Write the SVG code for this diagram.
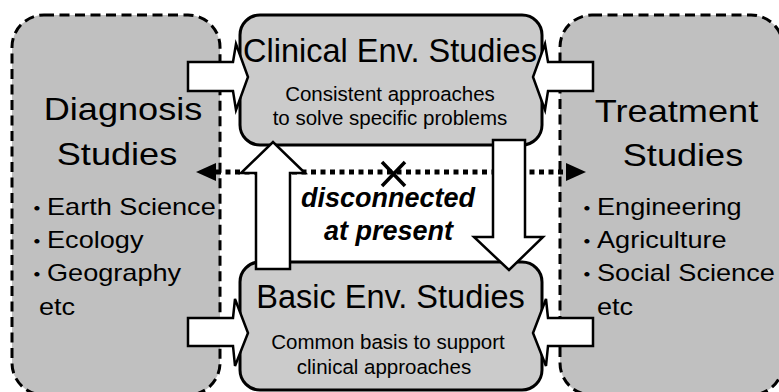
<svg xmlns="http://www.w3.org/2000/svg" width="779" height="392" viewBox="0 0 779 392">
<defs>
<style>
.side{fill:#c0c0c0;stroke:#000;stroke-width:3;stroke-dasharray:10 5.5}
.core{fill:#cbcbcb;stroke:#000;stroke-width:3}
.arr{fill:#fff;stroke:#000;stroke-width:2.5;stroke-linejoin:miter}
.dots{fill:none;stroke:#000;stroke-width:5;stroke-dasharray:5 4.5}
.cross{stroke:#000;stroke-width:3.5;fill:none}
text{font-family:"Liberation Sans",Arial,"Noto Sans CJK JP",sans-serif;fill:#000}
.title{font-size:32.5px;text-anchor:middle}
.sub{font-size:20.5px;text-anchor:middle}
.head{font-size:32px;text-anchor:middle}
.item{font-size:24px}
.dot{font-family:"Noto Sans CJK JP",sans-serif;font-size:18px;font-weight:bold}
.note{font-size:27px;font-weight:bold;font-style:italic;text-anchor:middle}
</style>
<marker id="tri" viewBox="0 0 20 18" refX="0" refY="9" markerWidth="20" markerHeight="18" markerUnits="userSpaceOnUse" orient="auto-start-reverse">
<path d="M0,0 L20,9 L0,18 Z" fill="#000"/>
</marker>
</defs>

<g id="diagnosis">
<rect class="side" x="12" y="15" width="208" height="380" rx="32"/>
<text class="head" transform="translate(123,120) scale(1.13,1)">Diagnosis</text>
<text class="head" transform="translate(117,164.5) scale(1.13,1)">Studies</text>
<text class="item" transform="translate(47,214.5) scale(1.13,1)"><tspan class="dot" x="-18">・</tspan><tspan x="0">Earth Science</tspan></text>
<text class="item" transform="translate(47,247.8) scale(1.13,1)"><tspan class="dot" x="-18">・</tspan><tspan x="0">Ecology</tspan></text>
<text class="item" transform="translate(47,281) scale(1.13,1)"><tspan class="dot" x="-18">・</tspan><tspan x="0">Geography</tspan></text>
<text class="item" transform="translate(39,314.5) scale(1.13,1)">etc</text>
</g>

<g id="treatment">
<rect class="side" x="560" y="15" width="223" height="380" rx="32"/>
<text class="head" transform="translate(676.5,121.5) scale(1.13,1)">Treatment</text>
<text class="head" transform="translate(683,166) scale(1.13,1)">Studies</text>
<text class="item" transform="translate(597,214.5) scale(1.13,1)"><tspan class="dot" x="-18">・</tspan><tspan x="0">Engineering</tspan></text>
<text class="item" transform="translate(597,247.8) scale(1.13,1)"><tspan class="dot" x="-18">・</tspan><tspan x="0">Agriculture</tspan></text>
<text class="item" transform="translate(597,281) scale(1.13,1)"><tspan class="dot" x="-18">・</tspan><tspan x="0">Social Science</tspan></text>
<text class="item" transform="translate(597,314.5) scale(1.13,1)">etc</text>
</g>

<g id="clinical">
<rect class="core" x="240" y="15" width="302" height="130" rx="20"/>
<text class="title" x="390" y="62">Clinical Env. Studies</text>
<text class="sub" x="390" y="100.5">Consistent approaches</text>
<text class="sub" x="390" y="125">to solve specific problems</text>
</g>

<g id="basic">
<rect class="core" x="240" y="262" width="302" height="128" rx="20"/>
<text class="title" x="390.5" y="308">Basic Env. Studies</text>
<text class="sub" x="388" y="349">Common basis to support</text>
<text class="sub" x="384" y="374">clinical approaches</text>
</g>

<g id="connectors">
<line class="dots" x1="216" y1="172" x2="566" y2="172" marker-start="url(#tri)" marker-end="url(#tri)"/>
<path class="cross" d="M382,162 L405,186 M405,162 L382,186"/>
<polygon class="arr" points="188,62 233,62 236,44 248,77 236,110 233,91 188,91"/>
<polygon class="arr" points="593,62 548,62 545,44 533,77 545,110 548,91 593,91"/>
<polygon class="arr" points="188,318 233,318 235,299 248,333 235,366 233,346 188,346"/>
<polygon class="arr" points="593,318 548,318 546,299 533,333 546,366 548,346 593,346"/>
<polygon class="arr" points="256,269 256,173 241,173 273,142 305,173 290,173 290,269"/>
<polygon class="arr" points="493,140 525,140 525,237 543,237 509,270 474,237 493,237"/>
</g>

<g id="note">
<text class="note" x="388" y="207">disconnected</text>
<text class="note" x="388.5" y="240">at present</text>
</g>
</svg>
